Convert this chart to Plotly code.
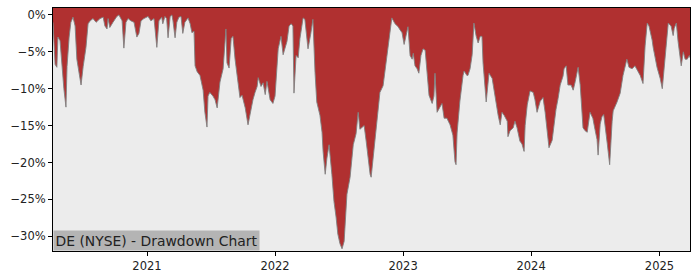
import plotly.graph_objects as go

dates = [
    "2020-04-08", "2020-04-14", "2020-04-19", "2020-04-22", "2020-04-28", "2020-05-04", "2020-05-09",
    "2020-05-15", "2020-05-18", "2020-05-24", "2020-05-29", "2020-06-04", "2020-06-10", "2020-06-15",
    "2020-06-21", "2020-06-27", "2020-07-03", "2020-07-11", "2020-07-17", "2020-07-23", "2020-07-31",
    "2020-08-09", "2020-08-20", "2020-08-29", "2020-09-03", "2020-09-09", "2020-09-12", "2020-09-17",
    "2020-09-26", "2020-10-07", "2020-10-13", "2020-10-22", "2020-10-27", "2020-11-02", "2020-11-08",
    "2020-11-16", "2020-11-25", "2020-12-03", "2020-12-09", "2020-12-15", "2020-12-23",
    "2021-01-04", "2021-01-12", "2021-01-21", "2021-01-29", "2021-02-04", "2021-02-12", "2021-02-15",
    "2021-02-21", "2021-02-26", "2021-03-02", "2021-03-08", "2021-03-13", "2021-03-16", "2021-03-22",
    "2021-03-27", "2021-04-02", "2021-04-08", "2021-04-13", "2021-04-19", "2021-04-28", "2021-05-04",
    "2021-05-09", "2021-05-15", "2021-05-18", "2021-05-24", "2021-06-01", "2021-06-07", "2021-06-10",
    "2021-06-15", "2021-06-21", "2021-06-24", "2021-06-29", "2021-07-08", "2021-07-14", "2021-07-20",
    "2021-07-28", "2021-08-06", "2021-08-14", "2021-08-17", "2021-08-23", "2021-08-29", "2021-09-03",
    "2021-09-09", "2021-09-18", "2021-09-23", "2021-09-29", "2021-10-08", "2021-10-16", "2021-10-25",
    "2021-10-30", "2021-11-05", "2021-11-11", "2021-11-14", "2021-11-22", "2021-11-28", "2021-12-04",
    "2021-12-09", "2021-12-18", "2021-12-26",
    "2022-01-01", "2022-01-10", "2022-01-18", "2022-01-24", "2022-01-30", "2022-02-04", "2022-02-10",
    "2022-02-16", "2022-02-21", "2022-02-24", "2022-03-02", "2022-03-08", "2022-03-13", "2022-03-19",
    "2022-03-22", "2022-03-27", "2022-04-02", "2022-04-05", "2022-04-13", "2022-04-19", "2022-04-25",
    "2022-04-30", "2022-05-09", "2022-05-15", "2022-05-18", "2022-05-24", "2022-05-29", "2022-06-04",
    "2022-06-12", "2022-06-18", "2022-06-24", "2022-06-29", "2022-07-05", "2022-07-11", "2022-07-17",
    "2022-07-22", "2022-07-25", "2022-08-03", "2022-08-12", "2022-08-20", "2022-08-26", "2022-08-31",
    "2022-09-06", "2022-09-12", "2022-09-18", "2022-09-23", "2022-09-29", "2022-10-02", "2022-10-08",
    "2022-10-13", "2022-10-22", "2022-10-27", "2022-11-05", "2022-11-11", "2022-11-16", "2022-11-19",
    "2022-11-25", "2022-11-30", "2022-12-09", "2022-12-18", "2022-12-23", "2022-12-29",
    "2023-01-04", "2023-01-12", "2023-01-15", "2023-01-21", "2023-01-27", "2023-01-30", "2023-02-04",
    "2023-02-10", "2023-02-15", "2023-02-21", "2023-02-27", "2023-03-05", "2023-03-10", "2023-03-16",
    "2023-03-25", "2023-03-30", "2023-04-02", "2023-04-08", "2023-04-16", "2023-04-22", "2023-04-28",
    "2023-05-06", "2023-05-15", "2023-05-23", "2023-05-29", "2023-06-01", "2023-06-04", "2023-06-12",
    "2023-06-21", "2023-06-24", "2023-07-02", "2023-07-05", "2023-07-11", "2023-07-17", "2023-07-22",
    "2023-07-28", "2023-08-03", "2023-08-09", "2023-08-14", "2023-08-17", "2023-08-26", "2023-08-31",
    "2023-09-03", "2023-09-12", "2023-09-15", "2023-09-20", "2023-09-29", "2023-10-05", "2023-10-10",
    "2023-10-16", "2023-10-25", "2023-10-27", "2023-11-02", "2023-11-11", "2023-11-16", "2023-11-22",
    "2023-11-25", "2023-11-30", "2023-12-06", "2023-12-12", "2023-12-15", "2023-12-21", "2023-12-29",
    "2024-01-07", "2024-01-12", "2024-01-18", "2024-01-27", "2024-02-04", "2024-02-10", "2024-02-15",
    "2024-02-21", "2024-03-01", "2024-03-04", "2024-03-12", "2024-03-18", "2024-03-24", "2024-04-01",
    "2024-04-04", "2024-04-10", "2024-04-15", "2024-04-24", "2024-04-30", "2024-05-06", "2024-05-14",
    "2024-05-20", "2024-05-28", "2024-06-03", "2024-06-09", "2024-06-17", "2024-06-25", "2024-07-01",
    "2024-07-07", "2024-07-10", "2024-07-16", "2024-07-21", "2024-07-26", "2024-08-05", "2024-08-10",
    "2024-08-12", "2024-08-19", "2024-08-22", "2024-09-02", "2024-09-11", "2024-09-19", "2024-09-25",
    "2024-09-30", "2024-10-06", "2024-10-15", "2024-10-23", "2024-11-01", "2024-11-07", "2024-11-15",
    "2024-11-21", "2024-11-27", "2024-12-02", "2024-12-11", "2024-12-14", "2024-12-25",
    "2025-01-03", "2025-01-09", "2025-01-14", "2025-01-23", "2025-01-26", "2025-02-03", "2025-02-09",
    "2025-02-12", "2025-02-18", "2025-02-23", "2025-03-04", "2025-03-10", "2025-03-15", "2025-03-21",
    "2025-03-27", "2025-03-29",
]

drawdown_pct = [
    -1.0, -6.7, -7.1, -3.0, -3.5, -7.3, -10.0,
    -12.5, -7.0, -3.0, -1.0, -0.3, -1.5, -6.0,
    -7.7, -9.5, -7.0, -4.4, -1.2, -0.8, -0.5,
    -1.0, -0.5, -0.3, -1.5, -1.9, -0.5, -1.7,
    -1.0, -0.2, 0.0, -0.8, -4.5, -1.0, -0.5,
    -0.8, -1.0, -3.0, -2.5, -0.8, -0.5,
    -0.2, -0.8, -0.5, -4.4, -0.8, -0.3, -1.2,
    -0.2, -0.5, -3.1, -0.2, 0.0, -0.8, -3.1,
    -1.0, -0.3, -0.2, -2.5, -1.0, -0.4, -1.2,
    -2.4, -2.2, -6.9, -7.7, -8.2, -9.3, -10.2,
    -13.2, -15.2, -11.0, -10.5, -11.0, -11.5, -12.6,
    -9.1, -7.3, -1.9, -6.5, -7.2, -3.2, -2.9,
    -6.0, -9.5, -11.2, -10.9, -12.6, -14.9, -12.6,
    -11.5, -10.5, -9.7, -8.5, -9.7, -9.2, -10.8,
    -9.0, -11.5, -12.0,
    -11.0, -4.6, -2.9, -5.4, -4.5, -3.6, -1.5,
    -1.2, -1.5, -10.6, -5.5, -5.8, -3.2, -1.0,
    -0.4, -0.6, -3.2, -4.6, -2.5, -0.6, -7.8,
    -11.8, -13.6, -15.9, -18.5, -21.6, -19.4, -17.6,
    -21.6, -25.3, -27.4, -29.7, -31.0, -31.7, -30.7,
    -27.4, -24.3, -22.0, -17.6, -16.1, -13.2, -15.5,
    -15.3, -15.0, -17.2, -19.4, -21.6, -22.0, -19.4,
    -16.7, -13.6, -10.5, -9.6, -7.3, -6.0, -4.2,
    -1.9, -0.4, -1.2, -1.6, -2.0, -2.4,
    -4.0, -2.0, -1.6, -5.5, -6.0, -5.2, -6.9,
    -7.3, -7.9, -5.5, -4.6, -4.8, -7.5, -10.9,
    -12.0, -11.0, -7.9, -13.2, -12.5, -12.0, -14.0,
    -14.0, -14.9, -16.3, -19.9, -20.3, -16.0, -11.7,
    -8.2, -7.6, -8.2, -8.2, -7.3, -5.4, -1.1,
    -2.8, -3.8, -2.9, -2.9, -6.5, -11.8, -9.2,
    -7.9, -8.6, -9.6, -11.2, -13.6, -14.9, -13.2,
    -13.6, -14.4, -16.5, -15.7, -15.3, -14.4, -15.3,
    -16.1, -17.1, -17.5, -18.5, -15.0, -12.2, -10.3,
    -10.5, -11.5, -13.2, -11.7, -11.2, -13.2, -15.3,
    -18.0, -17.0, -15.7, -12.8, -11.3, -9.5, -8.3,
    -7.3, -6.9, -9.5, -9.5, -10.2, -9.0, -7.1,
    -9.5, -15.3, -15.7, -15.9, -13.2, -14.0, -15.5,
    -16.9, -19.0, -14.8, -13.8, -13.5, -17.4, -20.3,
    -20.3, -14.4, -13.0, -11.8, -10.6, -8.2, -7.1,
    -6.0, -7.1, -7.3, -6.9, -7.7, -8.2, -9.3,
    -4.2, -1.1, -1.5, -3.4, -4.4, -7.1,
    -8.6, -10.0, -7.5, -3.2, -1.1, -1.5, -2.8,
    -1.8, -1.1, -3.6, -6.9, -5.0, -6.0, -6.0,
    -5.5, -5.8,
]

y_tick_vals = [0, -5, -10, -15, -20, -25, -30]
y_tick_text = ["0%", "\u22125%", "\u221210%", "\u221215%", "\u221220%", "\u221225%", "\u221230%"]
x_tick_vals = ["2021-01-01", "2022-01-01", "2023-01-01", "2024-01-01", "2025-01-01"]
x_tick_text = ["2021", "2022", "2023", "2024", "2025"]

Y_TOP = 0.94
Y_BOTTOM = -32.0
FILL_RED = "#b03030"
BG_GRAY = "#ececec"

fig = go.Figure()
fig.add_trace(go.Scatter(
    x=dates, y=[Y_TOP] * len(dates), mode="lines",
    line=dict(width=0, color=FILL_RED), hoverinfo="skip", showlegend=False,
))
fig.add_trace(go.Scatter(
    x=dates, y=drawdown_pct, mode="lines", fill="tonexty",
    fillcolor=FILL_RED, line=dict(color="#808080", width=0.9),
    showlegend=False,
))

axis_common = dict(
    showline=True, linecolor="black", linewidth=1, mirror=True,
    showgrid=False, zeroline=False, ticks="outside", ticklen=4,
    tickcolor="black", tickfont=dict(family="DejaVu Sans", size=11.5, color="#222"),
)
fig.update_xaxes(range=[dates[0], dates[-1]], tickvals=x_tick_vals, ticktext=x_tick_text,
                 **axis_common)
fig.update_yaxes(range=[Y_BOTTOM, Y_TOP], tickvals=y_tick_vals, ticktext=y_tick_text,
                 **axis_common)

fig.add_annotation(
    text="DE (NYSE) - Drawdown Chart", xref="paper", yref="paper", x=0, y=0,
    xanchor="left", yanchor="bottom", showarrow=False,
    font=dict(family="DejaVu Sans", size=13.9, color="#222"),
    bgcolor="#b4b4b4", borderpad=1.5,
)

fig.update_layout(
    width=700, height=280,
    margin=dict(l=53, r=10, t=7, b=28),
    plot_bgcolor=BG_GRAY, paper_bgcolor="white",
    font=dict(family="DejaVu Sans"),
)

fig.write_html("out.html")
